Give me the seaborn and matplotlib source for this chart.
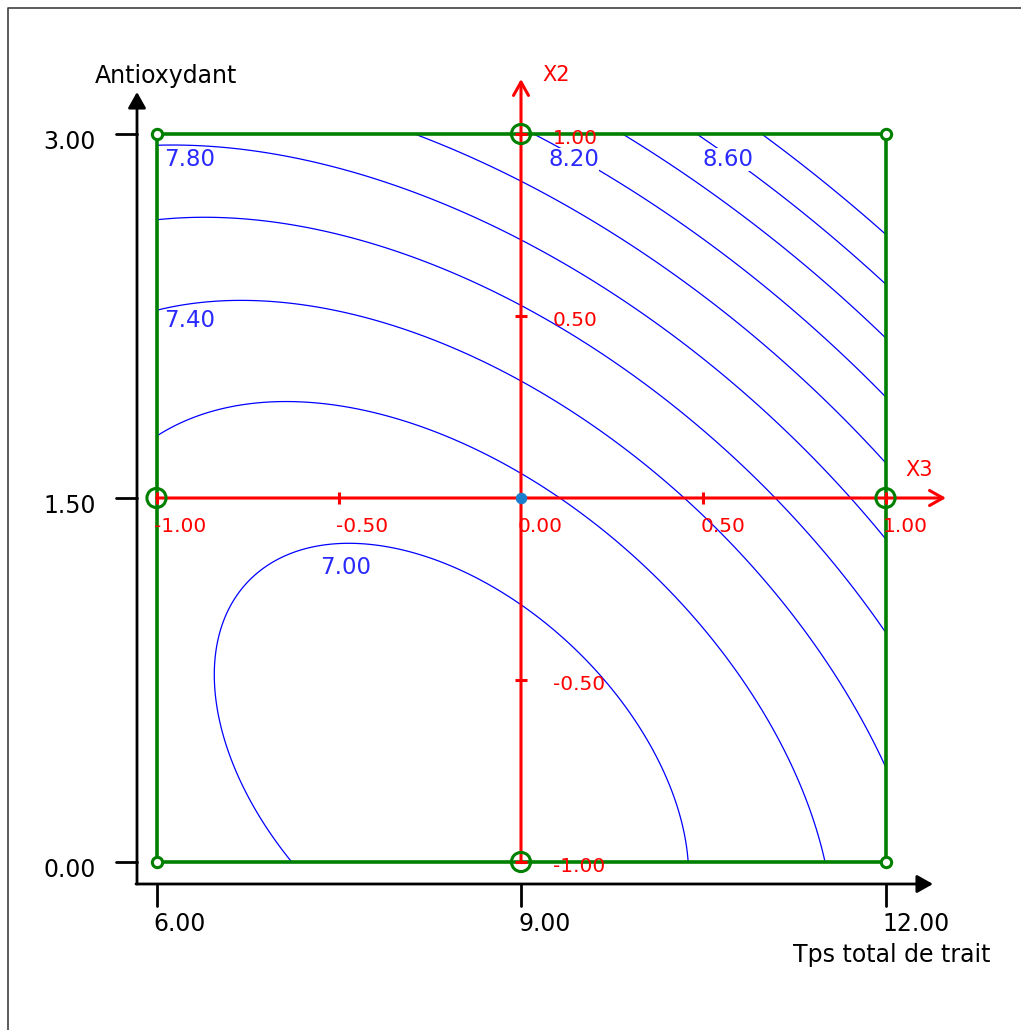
import numpy as np
import matplotlib
matplotlib.use("Agg")
import matplotlib.pyplot as plt
import seaborn as sns

# response surface model (coded units), coefficients
b0 = 7.155    # constant
b3 = 0.384    # X3 : Tps total de trait
b2 = 0.64     # X2 : Antioxydant
b33 = 0.364
b22 = 0.38
b23 = 0.322

levels = [7.0, 7.2, 7.4, 7.6, 7.8, 8.0, 8.2, 8.4, 8.6, 8.8]
label_levels = [7.00, 7.40, 7.80, 8.20, 8.60]
label_x3 = [-0.480, -0.908, -0.908, 0.145, 0.568]
label_x2 = [-0.190, 0.489, 0.929, 0.929, 0.929]

# design points (coded)
corner_x3 = [-1, 1, -1, 1]
corner_x2 = [-1, -1, 1, 1]
star_x3 = [-1, 1, 0, 0]
star_x2 = [0, 0, -1, 1]
center_x3 = [0]
center_x2 = [0]

coded_ticks = [-1.0, -0.5, 0.0, 0.5, 1.0]
time_ticks = [6.0, 9.0, 12.0]       # Tps total de trait
antiox_ticks = [0.0, 1.5, 3.0]      # Antioxydant

BLUE = "#0000ff"
LBLUE = "#2a2aff"
RED = "#ff0000"
GREEN = "#008000"

W, H = 1021, 1030


def hx(p):
    # pixel column -> coded X3
    return (p - 521) / 364.5


def vz(p):
    # pixel row -> coded X2
    return (498 - p) / 364


sns.set_theme(style="white")
plt.rcParams["font.family"] = ["DejaVu Sans"]

fig = plt.figure(figsize=(W / 100, H / 100), dpi=100)
ax = fig.add_axes([0, 0, 1, 1])

# window frame
ax.plot([hx(8), hx(8), hx(W + 5)], [vz(H + 5), vz(8), vz(8)], color="#404040", lw=1.2)

# iso-response curves
g = np.linspace(-1, 1, 301)
X3, X2 = np.meshgrid(g, g)
Y = b0 + b3 * X3 + b2 * X2 + b33 * X3 ** 2 + b22 * X2 ** 2 + b23 * X3 * X2
ax.contour(X3, X2, Y, levels=levels, colors=BLUE, linewidths=0.9, zorder=1)
for lvl, lx, lz in zip(label_levels, label_x3, label_x2):
    ax.text(lx, lz, f"{lvl:.2f}", color=LBLUE, fontsize=16.5, ha="center", va="center",
            bbox=dict(fc="white", ec="none", pad=0.05), zorder=1.5)

# experimental domain
ax.plot([-1, 1, 1, -1, -1], [-1, -1, 1, 1, -1], color=GREEN, lw=2.6, zorder=2)

# black real-unit axes
arrow_k = dict(arrowstyle="-|>,head_length=0.8,head_width=0.45", color="black",
               lw=2.0, shrinkA=0, shrinkB=0)
ax.annotate("", xy=(hx(137), vz(92)), xytext=(hx(137), vz(884)), arrowprops=arrow_k)
ax.annotate("", xy=(hx(933), vz(884)), xytext=(hx(136), vz(884)), arrowprops=arrow_k)
for a in antiox_ticks:
    z = (a - 1.5) / 1.5
    ax.plot([hx(116), hx(137)], [z, z], color="black", lw=2.0)
    ax.text(hx(96), z + vz(506) - vz(498), f"{a:.2f}", fontsize=17, ha="right", va="center",
            color="black")
for t in time_ticks:
    x = (t - 9) / 3
    ax.plot([x, x], [vz(884), vz(906)], color="black", lw=2.0)
    ax.text(x + hx(518) - hx(521), vz(924), f"{t:.2f}", fontsize=17, ha="left", va="center",
            color="black")
ax.text(hx(95), vz(76), "Antioxydant", fontsize=17, ha="left", va="center", color="black")
ax.text(hx(990), vz(955), "Tps total de trait", fontsize=17, ha="right", va="center",
        color="black")

# red coded axes
arrow_r = dict(arrowstyle="->,head_length=0.8,head_width=0.45", color=RED,
               lw=2.2, shrinkA=0, shrinkB=0)
ax.annotate("", xy=(0, vz(79)), xytext=(0, -1), arrowprops=arrow_r, zorder=3)
ax.annotate("", xy=(hx(946), 0), xytext=(-1, 0), arrowprops=arrow_r, zorder=3)
tk = [v for v in coded_ticks if v != 0]
ax.plot(tk, [0] * len(tk), ls="none", marker="|", ms=9, mew=2.2, color=RED, zorder=3)
ax.plot([0] * len(tk), tk, ls="none", marker="_", ms=9, mew=2.2, color=RED, zorder=3)
for v in coded_ticks:
    ax.text(v + hx(518) - hx(521), vz(526), f"{v:.2f}", fontsize=14.5, ha="left",
            va="center", color=RED, zorder=6)
for v in tk:
    ax.text(hx(553), v + vz(502) - vz(498), f"{v:.2f}", fontsize=14.5, ha="left",
            va="center", color=RED, zorder=6)
ax.text(hx(542), vz(75), "X2", fontsize=15, ha="left", va="center", color=RED)
ax.text(hx(905), vz(470), "X3", fontsize=15, ha="left", va="center", color=RED)

# design points
sns.scatterplot(x=star_x3, y=star_x2, ax=ax, s=190, facecolor="none", edgecolor=GREEN,
                linewidth=2.2, zorder=4)
sns.scatterplot(x=corner_x3, y=corner_x2, ax=ax, s=55, facecolor="white", edgecolor=GREEN,
                linewidth=2.2, zorder=4)
sns.scatterplot(x=center_x3, y=center_x2, ax=ax, s=60, facecolor="#1a7fcf", edgecolor="#1a7fcf",
                linewidth=0.5, zorder=5)

ax.set_xlim(hx(0), hx(W))
ax.set_ylim(vz(H), vz(0))
ax.axis("off")

fig.savefig("out.png", dpi=100)
